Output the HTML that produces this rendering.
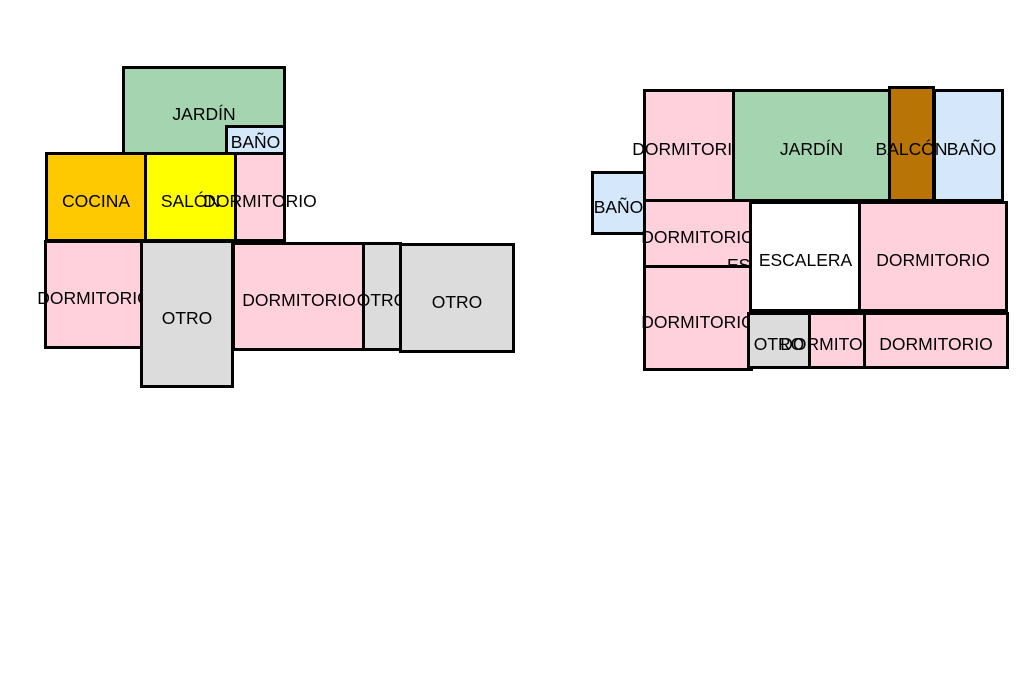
<!DOCTYPE html>
<html><head><meta charset="utf-8"><style>
body{margin:0;width:1024px;height:682px;background:#fff;position:relative;overflow:hidden;font-family:"Liberation Sans",Arial,sans-serif;font-size:17.5px;color:#000}
.r{position:absolute;box-sizing:border-box;border:3px solid #000;display:flex;align-items:center;justify-content:center;white-space:nowrap;overflow:visible;padding-top:8px}
.p{background:#ffd1dc}.g{background:#a5d5b0}.b{background:#d5e8fb}.o{background:#fec901}.y{background:#ffff00}.q{background:#dcdcdc}.w{background:#fff}.br{background:#b87506}
.t{position:absolute;white-space:nowrap}
</style></head><body>
<!-- left plan -->
<div class="r g" style="left:122px;top:66px;width:164px;height:89px">JARDÍN</div>
<div class="r b" style="left:225px;top:125px;width:61px;height:30px;padding-top:4px">BAÑO</div>
<div class="r o" style="left:45px;top:152px;width:102px;height:90px">COCINA</div>
<div class="r y" style="left:144px;top:152px;width:93px;height:90px">SALÓN</div>
<div class="r p" style="left:234px;top:152px;width:52px;height:90px">DORMITORIO</div>
<div class="r p" style="left:44px;top:240px;width:100px;height:109px">DORMITORIO</div>
<div class="r q" style="left:140px;top:240px;width:94px;height:148px">OTRO</div>
<div class="r p" style="left:232px;top:242px;width:134px;height:109px">DORMITORIO</div>
<div class="r q" style="left:362px;top:242px;width:40px;height:109px">OTRO</div>
<div class="r q" style="left:399px;top:243px;width:116px;height:110px">OTRO</div>
<!-- right plan -->
<div class="r p" style="left:643px;top:89px;width:92px;height:113px">DORMITORIO</div>
<div class="r g" style="left:732px;top:89px;width:159px;height:113px">JARDÍN</div>
<div class="r b" style="left:933px;top:89px;width:71px;height:113px;padding-left:6px">BAÑO</div>
<div class="r br" style="left:888px;top:86px;width:47px;height:116px;padding-top:10px">BALCÓN</div>
<div class="r b" style="left:591px;top:171px;width:55px;height:64px">BAÑO</div>
<div class="r p" style="left:643px;top:199px;width:110px;height:69px">DORMITORIO</div>
<div class="t" style="left:727px;top:255px">ES</div>
<div class="r p" style="left:643px;top:265px;width:110px;height:106px">DORMITORIO</div>
<div class="r w" style="left:749px;top:201px;width:113px;height:111px">ESCALERA</div>
<div class="r p" style="left:858px;top:201px;width:150px;height:111px">DORMITORIO</div>
<div class="r q" style="left:747px;top:312px;width:64px;height:57px">OTRO</div>
<div class="r p" style="left:808px;top:312px;width:58px;height:57px">DORMITORIO</div>
<div class="r p" style="left:863px;top:312px;width:146px;height:57px">DORMITORIO</div>
</body></html>
